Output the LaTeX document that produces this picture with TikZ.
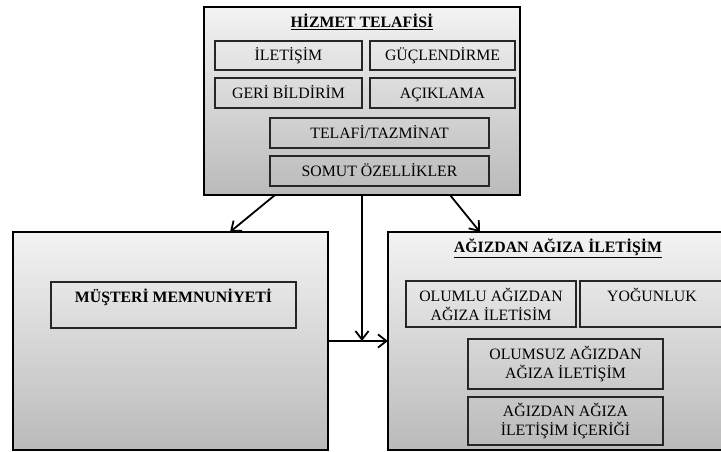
\documentclass[tikz,border=0pt]{standalone}
\usepackage{fontspec}
\setmainfont{Liberation Serif}
\usetikzlibrary{arrows.meta}
\usepackage{xcolor}
\definecolor{BoxTop}{RGB}{243,243,243}
\definecolor{BoxBottom}{RGB}{186,186,186}

\begin{document}
\begin{tikzpicture}[
x=1pt,y=-1pt,
outerbox/.style={
rectangle,
draw=black,
line width=1.8pt,
top color=BoxTop,
bottom color=BoxBottom,
inner sep=0pt,
outer sep=0pt
},
itembox/.style={
rectangle,
draw=black!85,
line width=1.3pt,
inner sep=0pt,
outer sep=0pt,
align=center,
font=\fontsize{15.8}{19}\selectfont
},
onebox/.style={
itembox,
text height=11.5pt,
text depth=1pt
},
titletext/.style={
font=\fontsize{15.8}{19}\selectfont\bfseries,
inner sep=0pt
},
arrow/.style={
-{Straight Barb[length=3mm,width=4.6mm]},
line width=1.8pt,
draw=black
}
]

\useasboundingbox (0,0) rectangle (721,452);

% hizmet telafisi
\node[outerbox,minimum width=316,minimum height=188] (hizmet) at (362,101) {};
\node[titletext] (hizmettitle) at (362,22) {\underline{HİZMET TELAFİSİ}};
\node[onebox,minimum width=147,minimum height=29] (iletisim) at (288.5,55.5) {İLETİŞİM};
\node[onebox,minimum width=145,minimum height=29] (guclen) at (442.5,55.5) {GÜÇLENDİRME};
\node[onebox,minimum width=147,minimum height=30] (geri) at (288.5,93) {GERİ BİLDİRİM};
\node[onebox,minimum width=145,minimum height=30] (acik) at (442.5,93) {AÇIKLAMA};
\node[onebox,minimum width=219,minimum height=30] (telafi) at (379.5,133) {TELAFİ/TAZMİNAT};
\node[onebox,minimum width=219,minimum height=30] (somut) at (379.5,171) {SOMUT ÖZELLİKLER};

% musteri memnuniyeti
\node[outerbox,minimum width=315,minimum height=218] (memnun) at (170.5,341) {};
\node[itembox,minimum width=245,minimum height=46] (memnunbox) at (173.5,305) {};
\node[titletext] (memnuntitle) at (173.5,297) {MÜŞTERİ MEMNUNİYETİ};

% agizdan agiza iletisim
\node[outerbox,minimum width=342,minimum height=218] (wom) at (559,341) {};
\node[titletext] (womtitle) at (558,248) {\underline{AĞIZDAN AĞIZA İLETİŞİM}};
\node[itembox,minimum width=170,minimum height=46] (olumlu) at (491,304) {OLUMLU AĞIZDAN\\AĞIZA İLETİSİM};
\node[itembox,minimum width=144,minimum height=46] (yogun) at (652,304) {};
\node[onebox,draw=none] (yoguntext) at (652,296) {YOĞUNLUK};
\node[itembox,minimum width=195,minimum height=50] (olumsuz) at (565.5,364) {OLUMSUZ AĞIZDAN\\AĞIZA İLETİŞİM};
\node[itembox,minimum width=195,minimum height=48] (icerik) at (565.5,421) {AĞIZDAN AĞIZA\\İLETİŞİM İÇERİĞİ};

\draw[arrow] ([xshift=-87]hizmet.south)--([xshift=59.5]memnun.north);
\draw[arrow] ([xshift=88]hizmet.south)--([xshift=-79]wom.north);
\draw[arrow] (hizmet.south)--(hizmet.south |- memnun.east);
\draw[arrow] (memnun.east)--(wom.west);

\end{tikzpicture}
\end{document}
